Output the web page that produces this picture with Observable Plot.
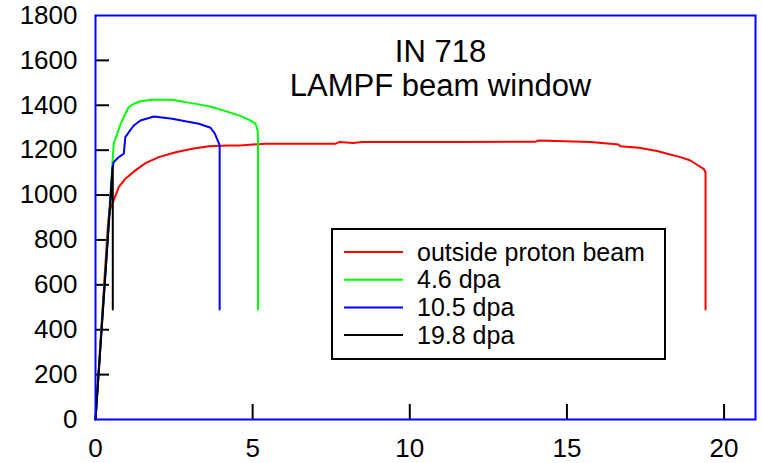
<!DOCTYPE html>
<html>
<head>
<meta charset="utf-8">
<script src="https://cdn.jsdelivr.net/npm/d3@7"></script>
<script src="https://cdn.jsdelivr.net/npm/@observablehq/plot@0.6"></script>
<style>
  html, body { margin: 0; padding: 0; background: #fff; }
  #chart { width: 762px; height: 463px; }
</style>
</head>
<body>
<div id="chart"></div>
<script>
// ---- data ----
const seriesNames = ["outside proton beam", "4.6 dpa", "10.5 dpa", "19.8 dpa"];
const titleLines = ["IN 718", "LAMPF beam window"];
const xTicks = [0, 5, 10, 15, 20];
const yTicks = [0, 200, 400, 600, 800, 1000, 1200, 1400, 1600, 1800];

// outside proton beam (red)
const redX = [0, 0.40, 0.45, 0.58, 0.74, 0.95, 1.27, 1.59, 2.01, 2.55, 3.08, 3.61, 4.24, 4.60, 5.41, 5.62, 7.64, 7.75, 8.2, 8.5, 8.7, 11.5, 14.0, 14.1, 15.75, 16.65, 16.70, 17.29, 17.87, 18.19, 18.61, 18.93, 19.14, 19.35, 19.41, 19.41];
const redY = [0, 880, 930, 976, 1035, 1073, 1110, 1142, 1169, 1191, 1206, 1217, 1221, 1221, 1229, 1229, 1229, 1236, 1232, 1236, 1236, 1236, 1238, 1243, 1236, 1225, 1217, 1211, 1196, 1184, 1169, 1154, 1135, 1117, 1102, 490];

// 4.6 dpa (green)
const greenX = [0, 0.53, 0.55, 0.58, 0.69, 0.80, 0.95, 1.06, 1.22, 1.43, 1.80, 2.44, 2.86, 3.29, 3.71, 4.14, 4.56, 4.88, 5.09, 5.16, 5.17, 5.17];
const greenY = [0, 1120, 1169, 1229, 1273, 1318, 1362, 1392, 1407, 1418, 1425, 1425, 1414, 1404, 1392, 1374, 1355, 1336, 1318, 1288, 1250, 490];

// 10.5 dpa (blue)
const blueX = [0, 0.54, 0.58, 0.74, 0.90, 0.95, 1.06, 1.22, 1.43, 1.86, 2.44, 2.86, 3.29, 3.66, 3.80, 3.93, 3.95, 3.95];
const blueY = [0, 1120, 1147, 1169, 1184, 1258, 1280, 1310, 1332, 1350, 1340, 1329, 1318, 1300, 1273, 1229, 1220, 490];

// 19.8 dpa (black)
const blackX = [0, 0.55, 0.55];
const blackY = [0, 1130, 490];

const seriesX = [redX, greenX, blueX, blackX];
const seriesY = [redY, greenY, blueY, blackY];

// ---- build table ----
const rows = [];
seriesNames.forEach((name, s) => {
  seriesX[s].forEach((x, i) => rows.push({series: name, x, y: seriesY[s][i]}));
});

const colors = ["#ff0000", "#00ff00", "#0000ff", "#000000"];
const fontFamily = "'Liberation Sans', Arial, Helvetica, sans-serif";

const svg = Plot.plot({
  width: 762,
  height: 463,
  marginLeft: 95,
  marginRight: 7,
  marginTop: 15,
  marginBottom: 44,
  style: {fontFamily, fontSize: "26px", color: "#000", background: "#fff"},
  x: {domain: [0, 21], axis: null},
  y: {domain: [0, 1800], axis: null},
  color: {domain: seriesNames, range: colors},
  marks: [
    Plot.tickY(yTicks.slice(1, -1), {y: d => d, stroke: "#000", strokeWidth: 2, insetRight: 646}),
    Plot.tickX(xTicks.slice(1), {x: d => d, stroke: "#000", strokeWidth: 2, insetTop: 389}),
    Plot.axisY({ticks: yTicks, tickSize: 0, tickPadding: 18, label: null, fontSize: 26, tickFormat: d => String(d)}),
    Plot.axisX({ticks: xTicks, tickSize: 0, tickPadding: 19, label: null, fontSize: 26, tickFormat: d => String(d)}),
    Plot.line(rows, {x: "x", y: "y", z: "series", stroke: "series", strokeWidth: 2, strokeLinejoin: "miter", curve: "linear"}),
    Plot.frame({stroke: "#0000ff", strokeWidth: 2}),
    Plot.text([titleLines.join("\n")], {text: d => d, frameAnchor: "top", dx: 15, dy: 22, lineAnchor: "top", lineHeight: 1.1, fontSize: 31, fill: "#000"})
  ]
});

// ---- legend (inside plot area) ----
const g = d3.select(svg).append("g").attr("class", "legend");
g.append("rect")
  .attr("x", 332).attr("y", 229).attr("width", 333).attr("height", 130)
  .attr("fill", "#fff").attr("stroke", "#000").attr("stroke-width", 2);
seriesNames.forEach((name, i) => {
  const yy = 252 + i * 27.7;
  g.append("line")
    .attr("x1", 344).attr("x2", 403).attr("y1", yy).attr("y2", yy)
    .attr("stroke", colors[i]).attr("stroke-width", 2);
  g.append("text")
    .attr("x", 417).attr("y", yy).attr("dy", "0.35em")
    .attr("text-anchor", "start")
    .attr("font-size", 25).attr("font-family", fontFamily).attr("fill", "#000")
    .text(name);
});

document.getElementById("chart").appendChild(svg);
</script>
</body>
</html>
